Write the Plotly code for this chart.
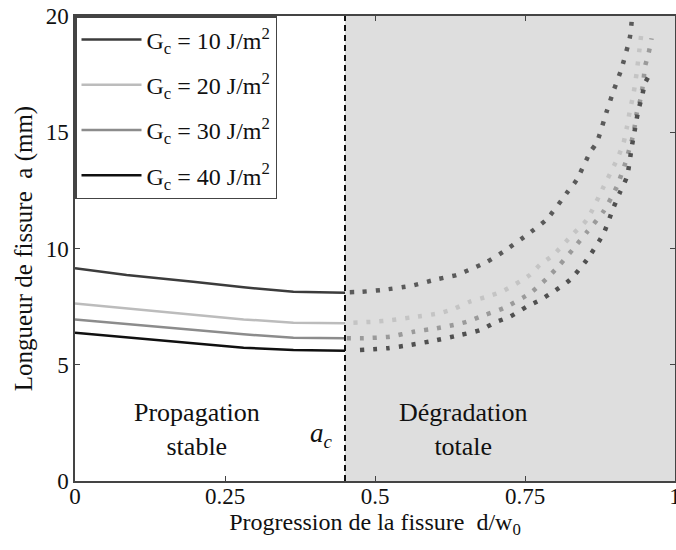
import plotly.graph_objects as go

# critical crack progression (dashed line)
a_c = 0.45

names = ['G<sub>c</sub> = 10 J/m<sup>2</sup>', 'G<sub>c</sub> = 20 J/m<sup>2</sup>',
         'G<sub>c</sub> = 30 J/m<sup>2</sup>', 'G<sub>c</sub> = 40 J/m<sup>2</sup>']
line_cols = ['#3c3c3c', '#bcbcbc', '#8c8c8c', '#101010']
dot_cols = ['#5a5a5a', '#c4c4c4', '#9a9a9a', '#505050']

# stable propagation (solid lines)
x_stable = [0.0, 0.086, 0.197, 0.281, 0.364, 0.45]
y_stable_10 = [9.15, 8.86, 8.57, 8.33, 8.14, 8.10]
y_stable_20 = [7.64, 7.43, 7.17, 6.95, 6.81, 6.78]
y_stable_30 = [6.95, 6.75, 6.49, 6.31, 6.16, 6.14]
y_stable_40 = [6.38, 6.18, 5.92, 5.73, 5.63, 5.60]

# total degradation (dotted points)
x_deg_10 = [0.458, 0.478, 0.513, 0.561, 0.605, 0.636, 0.663, 0.686, 0.713, 0.753, 0.786,
            0.820, 0.836, 0.858, 0.870, 0.886, 0.897, 0.911, 0.925, 0.928]
y_deg_10 = [8.12, 8.14, 8.22, 8.40, 8.69, 8.86, 9.15, 9.42, 9.85, 10.58, 11.25,
            12.40, 12.95, 14.11, 14.59, 15.88, 16.74, 17.75, 19.11, 19.83]
x_deg_20 = [0.464, 0.497, 0.528, 0.561, 0.606, 0.631, 0.658, 0.683, 0.711, 0.758, 0.775,
            0.797, 0.831, 0.853, 0.881, 0.903, 0.914, 0.920, 0.925, 0.931, 0.936, 0.942, 0.945]
y_deg_20 = [6.81, 6.85, 6.92, 7.04, 7.21, 7.40, 7.71, 7.90, 8.14, 8.86, 9.30,
            9.72, 10.65, 11.23, 12.66, 13.81, 14.52, 15.24, 15.96, 16.68, 17.54, 18.83, 19.47]
x_deg_30 = [0.453, 0.481, 0.525, 0.564, 0.603, 0.631, 0.653, 0.683, 0.714, 0.758, 0.786,
            0.808, 0.831, 0.853, 0.881, 0.903, 0.917, 0.925, 0.931, 0.936, 0.942, 0.947,
            0.950, 0.956, 0.961]
y_deg_30 = [6.14, 6.14, 6.21, 6.42, 6.57, 6.71, 6.85, 7.14, 7.43, 8.07, 8.70,
            9.30, 10.00, 10.70, 11.60, 12.66, 13.66, 14.38, 14.95, 15.81, 16.39, 17.11,
            17.82, 18.40, 19.04]
x_deg_40 = [0.475, 0.520, 0.558, 0.603, 0.642, 0.675, 0.703, 0.725, 0.753, 0.775, 0.797,
            0.825, 0.853, 0.881, 0.897, 0.908, 0.920, 0.928, 0.933, 0.939, 0.945, 0.950, 0.961]
y_deg_40 = [5.63, 5.71, 5.85, 6.06, 6.28, 6.49, 6.85, 7.07, 7.50, 7.78, 8.14,
            8.65, 9.51, 10.65, 11.73, 12.40, 13.10, 14.38, 15.10, 15.96, 16.53, 17.11, 17.61]

y_stable = [y_stable_10, y_stable_20, y_stable_30, y_stable_40]
x_deg = [x_deg_10, x_deg_20, x_deg_30, x_deg_40]
y_deg = [y_deg_10, y_deg_20, y_deg_30, y_deg_40]

serif = "'Liberation Serif', 'Times New Roman', Times, serif"
fig = go.Figure()

for i in range(4):
    fig.add_trace(go.Scatter(x=x_stable, y=y_stable[i], mode='lines', name=names[i],
                             legendgroup=str(i), line=dict(color=line_cols[i], width=2.5)))
for i in range(4):
    # dotted curve through the read points
    fig.add_trace(go.Scatter(x=x_deg[i], y=y_deg[i], mode='lines', showlegend=False,
                             legendgroup=str(i),
                             line=dict(color=dot_cols[i], width=4.5, dash='4px,9px',
                                       shape='spline', smoothing=0.6)))

# shaded zone + critical line
fig.add_shape(type='rect', xref='x', yref='y', x0=a_c, x1=1, y0=0, y1=20,
              fillcolor='#dedede', line=dict(width=0), layer='below')
fig.add_shape(type='line', xref='x', yref='y', x0=a_c, x1=a_c, y0=0, y1=20,
              line=dict(color='#111111', width=2, dash='6px,4px'))

fig.add_annotation(x=0.203, y=2.2, xref='x', yref='y', text='Propagation<br>stable',
                   showarrow=False, font=dict(family=serif, size=26, color='#111111'))
fig.add_annotation(x=0.647, y=2.2, xref='x', yref='y', text='Dégradation<br>totale',
                   showarrow=False, font=dict(family=serif, size=26, color='#111111'))
fig.add_annotation(x=0.41, y=2.0, xref='x', yref='y', text='<i>a<sub>c</sub></i>',
                   showarrow=False, font=dict(family=serif, size=27, color='#111111'))

axis_common = dict(showgrid=False, zeroline=False, showline=True, linecolor='#444444',
                   linewidth=1.5, mirror='ticks', ticks='inside', ticklen=5,
                   tickcolor='#444444', automargin=False, ticklabeloverflow='allow',
                   tickfont=dict(family=serif, size=23, color='#111111'))

fig.update_xaxes(range=[0, 1], tickvals=[0, 0.25, 0.5, 0.75, 1],
                 ticktext=['0', '0.25', '0.5', '0.75', '1'], ticklabelstandoff=-6,
                 title=dict(text='Progression de la fissure  d/w<sub>0</sub>',
                            font=dict(family=serif, size=24, color='#111111'), standoff=0),
                 **axis_common)
fig.update_yaxes(range=[0, 20], tickvals=[0, 5, 10, 15, 20],
                 title=dict(text='Longueur de fissure  a (mm)',
                            font=dict(family=serif, size=25, color='#111111'), standoff=6),
                 **axis_common)

fig.update_layout(
    width=676, height=550,
    margin=dict(l=75, r=1, t=16, b=69),
    plot_bgcolor='white', paper_bgcolor='white',
    showlegend=True,
    legend=dict(x=0, y=1, xanchor='left', yanchor='top', bgcolor='white',
                bordercolor='#444444', borderwidth=1.5, tracegroupgap=11, itemwidth=60,
                font=dict(family=serif, size=24, color='#111111')),
)

# drop the default 8px page margin so the 676x550 figure fills the window
fig.write_html("out.html", config={'displayModeBar': False},
               post_script="document.body.style.margin = '0px';")
